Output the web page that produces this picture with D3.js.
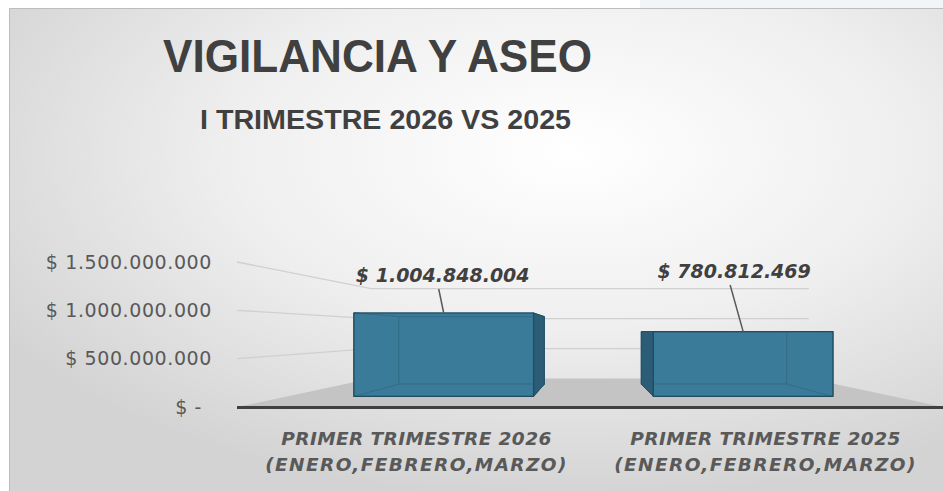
<!DOCTYPE html>
<html>
<head>
<meta charset="utf-8">
<script src="https://cdn.jsdelivr.net/npm/d3@7"></script>
<style>
  html, body { margin: 0; padding: 0; background: #ffffff; overflow: hidden; }
  svg { display: block; }
</style>
</head>
<body>
<script>
// data
const categoryLines = [
  ["PRIMER TRIMESTRE 2026", "(ENERO,FEBRERO,MARZO)"],
  ["PRIMER TRIMESTRE 2025", "(ENERO,FEBRERO,MARZO)"]
];
const values = [1004848004, 780812469];
const tickValues = [0, 500000000, 1000000000, 1500000000];
const title = "VIGILANCIA Y ASEO";
const subtitle = "I TRIMESTRE 2026 VS 2025";

const w = 943;
const h = 491;

const locale = d3.formatLocale({ decimal: ",", thousands: ".", grouping: [3], currency: ["$ ", ""] });
const money = locale.format("$,.0f");

// perspective: everything is laid out on the front plane and pulled to a vanishing point
const vp = { x: 590, y: 332 };
const sFloorFront = 1, sWall = 0.62, sBarFront = 0.858, sBarBack = 0.695;
const proj = (x, y, s) => [vp.x + (x - vp.x) * s, vp.y + (y - vp.y) * s];

const axisLeft = 237, axisRight = 943;

const yScale = d3.scaleLinear()
  .domain([0, 1500000000])
  .range([407, 262]);

const xScale = d3.scaleBand()
  .domain(d3.range(values.length))
  .range([245, axisRight])
  .paddingInner(0.4)
  .paddingOuter(0.2);

const svg = d3.select("body")
  .append("svg")
  .attr("width", w)
  .attr("height", h);

const defs = svg.append("defs");
const bg = defs.append("radialGradient")
  .attr("id", "bg")
  .attr("cx", 0.6).attr("cy", 0.3).attr("r", 0.72);
bg.append("stop").attr("offset", 0).attr("stop-color", "#ffffff");
bg.append("stop").attr("offset", 0.5).attr("stop-color", "#efefef");
bg.append("stop").attr("offset", 1).attr("stop-color", "#d3d3d3");

// faint strip above the chart box
svg.append("rect")
  .attr("x", 640).attr("y", 0).attr("width", 303).attr("height", 8)
  .attr("fill", "#f1f5f8");

svg.append("rect")
  .attr("x", 9).attr("y", 8)
  .attr("width", w - 9).attr("height", h - 8)
  .attr("fill", "url(#bg)");

svg.append("path")
  .attr("d", "M9.5," + h + "V8.5H" + w)
  .attr("fill", "none")
  .attr("stroke", "#bdbdbd");

// title + subtitle
svg.append("text")
  .attr("x", 163).attr("y", 72)
  .attr("textLength", 429)
  .attr("lengthAdjust", "spacingAndGlyphs")
  .style("font-family", "'Liberation Sans', Arial, sans-serif")
  .style("font-weight", "bold")
  .style("font-size", "47px")
  .style("fill", "#404040")
  .text(title);

svg.append("text")
  .attr("x", 200).attr("y", 129)
  .attr("textLength", 371)
  .attr("lengthAdjust", "spacingAndGlyphs")
  .style("font-family", "'Liberation Sans', Arial, sans-serif")
  .style("font-weight", "bold")
  .style("font-size", "27px")
  .style("fill", "#404040")
  .text(subtitle);

// floor
const floorPts = [
  proj(axisLeft, yScale(0), sFloorFront),
  proj(axisRight, yScale(0), sFloorFront),
  proj(axisRight, yScale(0), sWall),
  proj(axisLeft, yScale(0), sWall)
];
svg.append("polygon")
  .attr("points", floorPts.map(p => p.join(",")).join(" "))
  .attr("fill", "#c4c4c4");

// gridlines: along the left wall, then across the back wall
svg.append("g")
  .selectAll("path")
  .data(tickValues.filter(d => d > 0))
  .enter()
  .append("path")
  .attr("d", d => {
    const a = proj(axisLeft, yScale(d), sFloorFront);
    const b = proj(axisLeft, yScale(d), sWall);
    const c = proj(axisRight, yScale(d), sWall);
    return "M" + a + "L" + b + "L" + c;
  })
  .attr("fill", "none")
  .attr("stroke", "#d0d0d0")
  .attr("stroke-width", 1.3);

// axis line on the floor front edge
svg.append("line")
  .attr("x1", axisLeft).attr("x2", axisRight)
  .attr("y1", yScale(0) + 0.5).attr("y2", yScale(0) + 0.5)
  .attr("stroke", "#404040")
  .attr("stroke-width", 3);

// y axis labels
const yAxis = d3.axisLeft(yScale)
  .tickValues(tickValues)
  .tickSize(0)
  .tickPadding(25)
  .tickFormat(d => d === 0 ? "$ -" : money(d));

const yg = svg.append("g")
  .attr("transform", "translate(" + axisLeft + ",0)")
  .call(yAxis);
yg.select(".domain").remove();
yg.selectAll("text")
  .style("font-family", "'DejaVu Sans', sans-serif")
  .style("font-size", "19px")
  .style("letter-spacing", "0.6px")
  .style("fill", "#595959")
  .attr("dx", d => d === 0 ? -10 : 0);

// bars as see-through boxes
const bars = svg.append("g");
values.forEach((v, i) => {
  const x0 = xScale(i), x1 = xScale(i) + xScale.bandwidth();
  const yT = yScale(v), yB = yScale(0);
  const P = (x, y, s) => proj(x, y, s);
  const face = pts => pts.map(p => p.join(",")).join(" ");
  const g = bars.append("g");

  const back = [P(x0, yT, sBarBack), P(x1, yT, sBarBack), P(x1, yB, sBarBack), P(x0, yB, sBarBack)];
  const bottom = [P(x0, yB, sBarFront), P(x1, yB, sBarFront), P(x1, yB, sBarBack), P(x0, yB, sBarBack)];
  const top = [P(x0, yT, sBarFront), P(x1, yT, sBarFront), P(x1, yT, sBarBack), P(x0, yT, sBarBack)];
  const left = [P(x0, yT, sBarFront), P(x0, yT, sBarBack), P(x0, yB, sBarBack), P(x0, yB, sBarFront)];
  const right = [P(x1, yT, sBarFront), P(x1, yT, sBarBack), P(x1, yB, sBarBack), P(x1, yB, sBarFront)];
  const front = [P(x0, yT, sBarFront), P(x1, yT, sBarFront), P(x1, yB, sBarFront), P(x0, yB, sBarFront)];

  // which side face faces the eye
  const rightVisible = x1 < vp.x;
  const inner = rightVisible ? left : right;
  const outer = rightVisible ? right : left;

  [back, bottom, top, inner].forEach(f => {
    g.append("polygon")
      .attr("points", face(f))
      .attr("fill", "#3b7b99")
      .attr("stroke", "#2c6179")
      .attr("stroke-width", 1);
  });
  g.append("polygon")
    .attr("points", face(outer))
    .attr("fill", "#2b5e76")
    .attr("stroke", "#224f64")
    .attr("stroke-width", 1);
  g.append("polygon")
    .attr("points", face(front))
    .attr("fill", "#3c7d9b")
    .attr("fill-opacity", 0.45)
    .attr("stroke", "#1f4c61")
    .attr("stroke-width", 1.2);
});

// data labels with leader lines (placed by hand in the original)
const labelSpot = [[-1, 282], [-9, 278]];
values.forEach((v, i) => {
  const cx = xScale(i) + xScale.bandwidth() / 2;
  const topPt = proj(cx, yScale(v), sBarFront);
  const lx = topPt[0] + labelSpot[i][0];
  const ly = labelSpot[i][1];
  svg.append("line")
    .attr("x1", lx - 4).attr("y1", ly + 7)
    .attr("x2", topPt[0]).attr("y2", topPt[1])
    .attr("stroke", "#595959")
    .attr("stroke-width", 1.5);
  svg.append("text")
    .attr("x", lx).attr("y", ly)
    .attr("text-anchor", "middle")
    .style("font-family", "'DejaVu Sans', sans-serif")
    .style("font-weight", "bold")
    .style("font-style", "italic")
    .style("font-size", "19px")
    .style("fill", "#404040")
    .text(money(v));
});

// category labels
const cats = svg.append("g")
  .selectAll("text")
  .data(categoryLines)
  .enter()
  .append("text")
  .attr("text-anchor", "middle")
  .style("font-family", "'DejaVu Sans', sans-serif")
  .style("font-weight", "bold")
  .style("font-style", "italic")
  .style("font-size", "18.5px")
  .style("fill", "#595959");

cats.each(function (lines, i) {
  const cx = xScale(i) + xScale.bandwidth() / 2 - 3;
  d3.select(this).selectAll("tspan")
    .data(lines)
    .enter()
    .append("tspan")
    .attr("x", cx)
    .attr("y", (d, j) => 445 + j * 26)
    .style("letter-spacing", (d, j) => j === 0 ? "0.4px" : "1.4px")
    .text(d => d);
});
</script>
</body>
</html>
